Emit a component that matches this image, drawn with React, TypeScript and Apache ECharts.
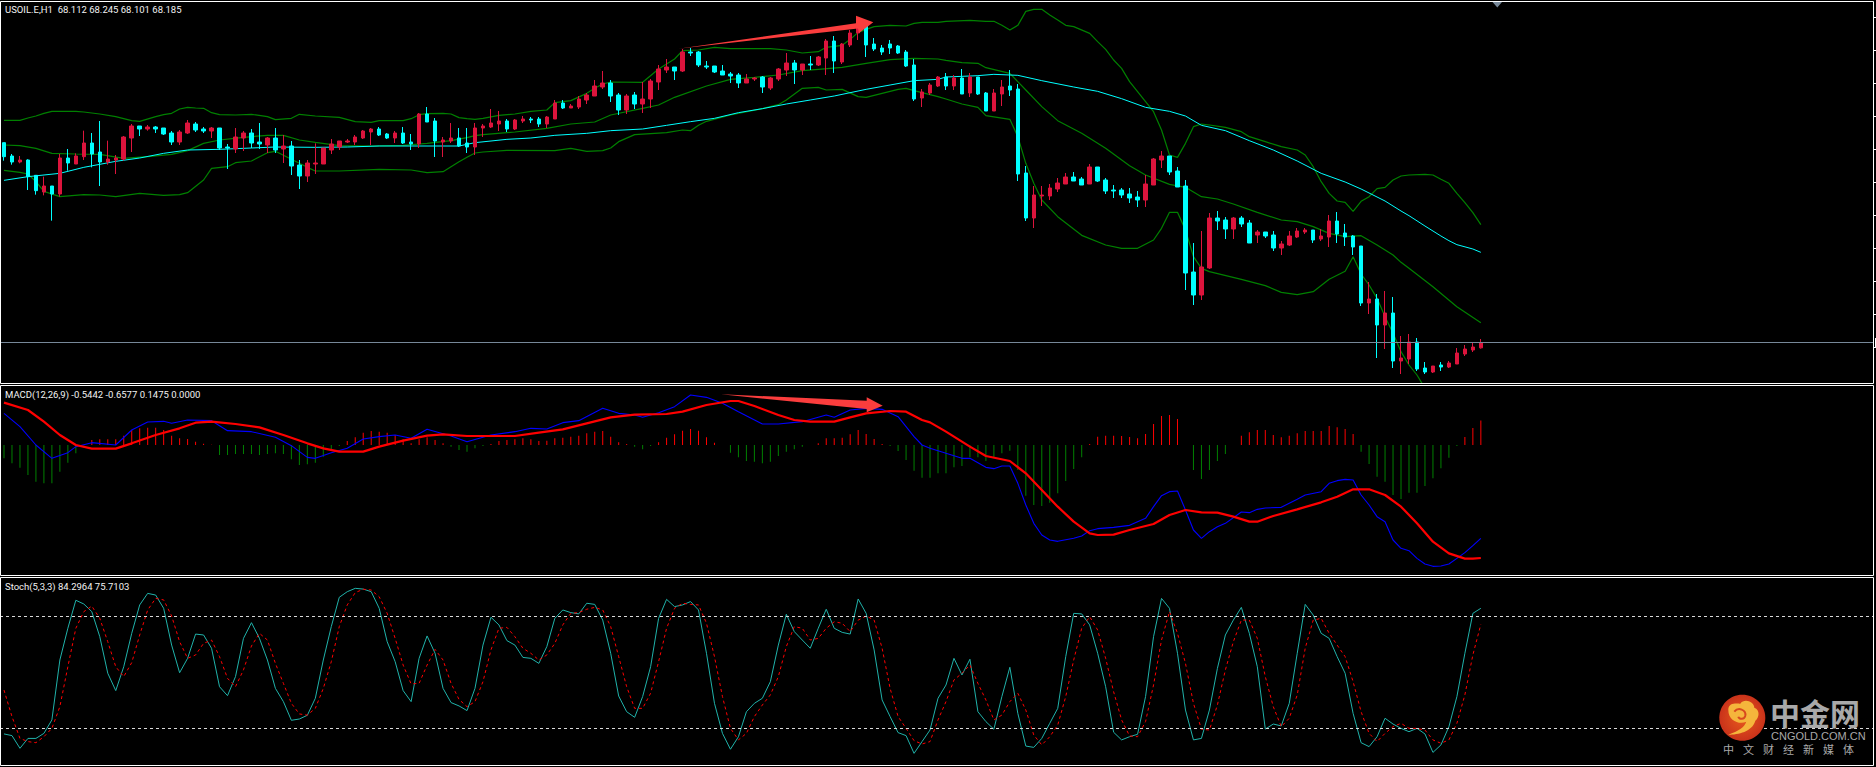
import React, { useEffect, useRef } from "react";
import * as echarts from "echarts";

const HEADER_PRICE = "USOIL.E,H1  68.112 68.245 68.101 68.185";
const HEADER_MACD = "MACD(12,26,9) -0.5442 -0.6577 0.1475 0.0000";
const HEADER_STOCH = "Stoch(5,3,3) 84.2964 75.7103";
const BID_PRICE = 68.185;
const STOCH_LEVELS = [80, 20];
const SLOT_COUNT = 235;
const slots = Array.from({ length: SLOT_COUNT }, (_, i) => String(i));

// [open, close, low, high]
const candles = [
[71.19,70.98,70.92,71.19],[70.99,70.90,70.86,71.02],[70.90,70.93,70.88,70.99],[70.93,70.68,70.48,70.94],[70.70,70.47,70.41,70.70],
[70.45,70.54,70.40,70.68],[70.54,70.42,70.02,70.54],[70.42,70.96,70.38,71.02],[70.96,70.885,70.77,71.095],[70.87,70.99,70.87,71.03],
[70.98,71.185,70.93,71.37],[71.185,71.02,70.82,71.335],[71.05,70.90,70.54,71.515],[70.90,70.945,70.86,71.22],[70.93,70.96,70.72,71.005],
[70.945,71.275,70.92,71.29],[71.26,71.44,71.05,71.47],[71.44,71.395,71.29,71.44],[71.395,71.425,71.37,71.455],[71.425,71.395,71.335,71.44],
[71.41,71.32,71.305,71.41],[71.335,71.20,71.155,71.365],[71.20,71.35,71.155,71.38],[71.335,71.485,71.32,71.53],[71.47,71.38,71.35,71.50],
[71.395,71.365,71.335,71.425],[71.365,71.41,71.26,71.425],[71.41,71.11,71.08,71.41],[71.125,71.11,70.795,71.17],[71.095,71.275,71.035,71.41],
[71.26,71.335,71.065,71.365],[71.335,71.185,71.11,71.395],[71.20,71.17,71.095,71.485],[71.155,71.26,71.035,71.275],[71.26,71.08,71.035,71.41],
[71.095,71.14,70.885,71.305],[71.14,70.84,70.705,71.215],[70.855,70.69,70.495,70.93],[70.69,70.885,70.60,70.93],[70.87,70.885,70.72,71.18],
[70.87,71.11,70.87,71.11],[71.08,71.17,71.02,71.245],[71.125,71.215,71.08,71.215],[71.20,71.215,71.185,71.245],[71.20,71.275,71.155,71.305],
[71.26,71.365,71.245,71.38],[71.35,71.395,71.155,71.41],[71.395,71.305,71.29,71.425],[71.32,71.26,71.245,71.335],[71.26,71.335,71.185,71.365],
[71.335,71.185,71.17,71.425],[71.20,71.17,71.08,71.32],[71.17,71.62,71.11,71.635],[71.62,71.50,71.50,71.725],[71.515,71.215,70.975,71.56],
[71.20,71.23,70.975,71.275],[71.215,71.26,71.185,71.485],[71.26,71.14,71.125,71.41],[71.185,71.125,71.035,71.41],[71.125,71.41,71.005,71.485],
[71.41,71.44,71.275,71.47],[71.425,71.485,71.41,71.695],[71.47,71.515,71.365,71.665],[71.515,71.395,71.35,71.545],[71.395,71.53,71.38,71.545],
[71.515,71.545,71.485,71.59],[71.545,71.53,71.485,71.575],[71.545,71.47,71.425,71.575],[71.47,71.575,71.41,71.59],[71.545,71.785,71.545,71.83],
[71.785,71.71,71.695,71.83],[71.71,71.74,71.71,71.77],[71.725,71.845,71.695,71.89],[71.83,71.905,71.77,71.935],[71.89,72.04,71.89,72.13],
[72.025,72.085,71.995,72.265],[72.085,71.89,71.80,72.13],[71.905,71.68,71.605,71.935],[71.68,71.89,71.62,71.92],[71.905,71.77,71.695,71.95],
[71.77,71.845,71.635,72.10],[71.845,72.115,71.71,72.145],[72.10,72.295,71.98,72.355],[72.28,72.325,72.235,72.445],[72.325,72.265,72.13,72.325],
[72.265,72.55,72.25,72.595],[72.55,72.535,72.49,72.61],[72.55,72.355,72.325,72.565],[72.34,72.325,72.295,72.415],[72.34,72.25,72.235,72.34],
[72.265,72.205,72.205,72.355],[72.22,72.19,72.085,72.25],[72.205,72.085,72.01,72.235],[72.085,72.145,72.085,72.22],[72.145,72.16,72.115,72.175],
[72.175,72.025,71.935,72.19],[72.01,72.16,71.98,72.175],[72.145,72.295,72.115,72.31],[72.28,72.385,72.19,72.535],[72.385,72.28,72.07,72.43],
[72.28,72.37,72.205,72.37],[72.37,72.355,72.28,72.49],[72.355,72.475,72.34,72.49],[72.46,72.715,72.205,72.745],[72.715,72.415,72.235,72.79],
[72.40,72.67,72.37,72.685],[72.655,72.835,72.625,72.88],[72.835,72.91,72.73,72.98],[72.97,72.655,72.475,73.00],[72.67,72.595,72.565,72.76],
[72.61,72.55,72.505,72.655],[72.67,72.61,72.52,72.73],[72.64,72.535,72.52,72.655],[72.55,72.34,72.325,72.58],[72.355,71.845,71.815,72.445],
[71.86,71.95,71.725,71.995],[71.935,72.055,71.905,72.085],[72.04,72.175,72.025,72.19],[72.175,72.04,71.98,72.235],[72.04,72.16,71.98,72.205],
[72.16,71.92,71.92,72.295],[71.935,72.175,71.875,72.235],[72.175,71.92,71.905,72.175],[71.935,71.665,71.665,71.95],[71.665,71.935,71.665,71.995],
[71.92,72.025,71.74,72.13],[72.04,71.98,71.89,72.28],[71.995,70.72,70.615,72.07],[70.735,70.06,70.015,70.84],[70.06,70.405,69.91,70.54],
[70.39,70.405,70.24,70.54],[70.39,70.51,70.33,70.57],[70.495,70.585,70.45,70.66],[70.57,70.675,70.57,70.735],[70.675,70.615,70.615,70.75],
[70.645,70.555,70.555,70.675],[70.57,70.825,70.57,70.87],[70.825,70.615,70.60,70.825],[70.63,70.465,70.42,70.66],[70.48,70.465,70.36,70.555],
[70.48,70.405,70.36,70.51],[70.42,70.36,70.285,70.51],[70.375,70.33,70.225,70.465],[70.33,70.57,70.225,70.705],[70.555,70.945,70.555,70.96],
[70.93,70.99,70.81,71.065],[70.99,70.75,70.705,70.99],[70.765,70.525,70.525,70.825],[70.54,69.235,68.98,70.63],[69.25,68.905,68.755,69.685],
[68.905,69.325,68.83,69.865],[69.31,70.06,69.295,70.135],[70.06,70.015,69.88,70.165],[70.03,69.895,69.745,70.075],[69.895,70.06,69.745,70.075],
[70.06,69.97,69.925,70.09],[69.985,69.685,69.685,70.03],[69.805,69.85,69.685,69.88],[69.85,69.79,69.76,69.85],[69.805,69.61,69.565,69.865],
[69.61,69.67,69.505,69.715],[69.655,69.79,69.64,69.865],[69.775,69.865,69.76,69.91],[69.85,69.88,69.82,69.91],[69.88,69.73,69.685,69.88],
[69.745,69.79,69.715,69.895],[69.775,70.015,69.625,70.105],[70.015,69.82,69.685,70.15],[69.835,69.775,69.64,69.97],[69.79,69.625,69.505,69.805],
[69.64,68.785,68.74,69.64],[68.785,68.845,68.62,69.10],[68.845,68.455,67.96,68.92],[68.455,68.635,68.095,68.965],[68.635,67.915,67.81,68.875],
[67.915,67.96,67.72,68.29],[67.945,68.20,67.87,68.32],[68.20,67.795,67.765,68.26],[67.81,67.75,67.72,67.90],[67.75,67.84,67.735,67.84],
[67.855,67.825,67.765,67.90],[67.825,67.885,67.81,67.915],[67.87,68.035,67.87,68.11],[68.02,68.095,67.99,68.155],[68.08,68.125,68.05,68.20],
[68.112,68.185,68.101,68.245],
];

// [bar index, value] read where each line bends
const bollUpper = [[0,71.525],[2,71.525],[3,71.56],[4,71.59],[5,71.63],[6,71.66],[9,71.66],[10,71.65],[12,71.62],[14,71.58],[16,71.52],[17,71.51],[19,71.58],[20,71.61],[21,71.63],[22,71.695],[23,71.72],[24,71.71],[25,71.705],[26,71.64],[27,71.61],[29,71.605],[31,71.615],[33,71.58],[34,71.535],[36,71.555],[37,71.615],[39,71.59],[42,71.57],[44,71.505],[46,71.495],[47,71.52],[50,71.52],[51,71.55],[52,71.61],[53,71.625],[55,71.63],[56,71.62],[57,71.565],[58,71.55],
[59,71.54],[60,71.555],[62,71.60],[64,71.62],[66,71.66],[68,71.68],[69,71.79],[71,71.82],[73,71.93],[74,72.005],[75,72.07],[76,72.10],[80,72.095],[82,72.295],[84,72.445],[85,72.57],[87,72.58],[89,72.62],[91,72.60],[96,72.60],[98,72.58],[100,72.535],[102,72.555],[103,72.62],[105,72.65],[106,72.74],[107,72.845],[108,72.89],[109,72.93],[111,72.95],[113,72.94],[114,72.98],[115,72.995],[117,72.995],
[118,73.01],[121,73.025],[123,73.01],[124,73.01],[125,72.95],[126,72.88],[127,72.95],[128,73.16],[129,73.19],[130,73.19],[131,73.105],[132,73.03],[133,72.95],[134,72.93],[136,72.83],[137,72.705],[138,72.59],[139,72.43],[140,72.305],[141,72.105],[142,71.955],[143,71.805],[144,71.655],[145,71.38],[146,71.005],[147,70.97],[148,71.18],[149,71.43],[150,71.47],[151,71.455],[153,71.42],[155,71.355],[156,71.28],[158,71.205],[160,71.13],[162,71.08],[163,71.005],[164,70.83],[165,70.605],[166,70.43],[167,70.315],[168,70.295],[169,70.16],[170,70.31],[171,70.38],[172,70.50],[173,70.52],[174,70.63],[175,70.69],[176,70.705],[178,70.715],[179,70.705],[180,70.64],[181,70.58],[182,70.43],[183,70.29],[184,70.14],[185,69.96]];

const bollMiddle = [[0,71.155],[2,71.145],[4,71.105],[6,71.03],[9,71.02],[12,71.015],[15,70.955],[18,70.98],[21,71.015],[23,71.07],[25,71.18],[27,71.23],[30,71.27],[33,71.30],[35,71.30],[37,71.23],[39,71.195],[42,71.145],[46,71.14],[50,71.15],[53,71.18],[56,71.22],[58,71.265],
[59,71.295],[60,71.31],[64,71.35],[68,71.405],[71,71.47],[74,71.50],[76,71.605],[80,71.705],[82,71.755],[84,71.87],[88,72.04],[91,72.14],[94,72.17],[97,72.205],[100,72.27],[102,72.29],[105,72.32],[108,72.38],[111,72.435],[114,72.455],[117,72.445],
[118,72.425],[120,72.39],[122,72.38],[123,72.315],[126,72.23],[128,71.98],[130,71.73],[132,71.52],[135,71.33],[138,71.105],[141,70.845],[143,70.705],[146,70.565],[148,70.52],[150,70.38],[152,70.345],[154,70.27],[157,70.145],[160,70.03],[162,70.005],[164,69.93],[166,69.83],[168,69.78],[170,69.795],[172,69.655],[174,69.505],[175,69.395],[176,69.305],[179,69.03],[182,68.73],[185,68.49]];

const bollLower = [[0,70.775],[2,70.745],[3,70.72],[4,70.605],[5,70.46],[7,70.38],[10,70.41],[12,70.405],[14,70.38],[17,70.43],[20,70.40],[22,70.41],[23,70.44],[25,70.63],[26,70.805],[28,70.83],[29,70.89],[31,70.915],[33,71.04],[34,71.06],[36,70.94],[37,70.88],[38,70.82],[39,70.765],[42,70.765],[47,70.79],[51,70.78],[53,70.74],[55,70.755],[57,70.905],[58,70.97],
[59,71.035],[60,71.05],[63,71.075],[69,71.07],[71,71.105],[73,71.06],[75,71.07],[76,71.11],[77,71.205],[79,71.31],[83,71.34],[85,71.38],[86,71.37],[87,71.45],[88,71.51],[91,71.605],[95,71.70],[97,71.76],[98,71.83],[100,72.005],[102,72.02],[103,71.98],[105,71.99],[107,71.88],[108,71.87],[112,71.99],[113,72.005],[114,71.97],[117,71.88],
[118,71.845],[120,71.77],[122,71.72],[123,71.595],[126,71.54],[127,71.28],[128,70.88],[129,70.58],[130,70.33],[132,70.08],[135,69.80],[138,69.655],[140,69.605],[142,69.605],[144,69.73],[145,69.905],[146,70.145],[147,70.145],[148,69.88],[149,69.48],[150,69.305],[151,69.255],[155,69.14],[158,69.045],[160,68.945],[162,68.91],[164,68.955],[166,69.14],[168,69.26],[169,69.48],[170,69.22],[171,69.055],[172,68.855],[173,68.58],[174,68.33],[175,68.055],[176,67.855],[177,67.705],[178,67.505]];

const movingAverage = [[0,70.625],[3,70.68],[7,70.73],[10,70.82],[14,70.91],[17,70.96],[20,71.03],[23,71.08],[27,71.09],[31,71.11],[34,71.125],[39,71.12],[43,71.125],[47,71.14],[52,71.14],[57,71.14],[58,71.165],
[59,71.19],[63,71.24],[66,71.26],[69,71.30],[73,71.33],[76,71.37],[80,71.395],[83,71.45],[86,71.505],[89,71.555],[92,71.64],[95,71.70],[98,71.77],[101,71.83],[104,71.89],[108,71.99],[111,72.055],[114,72.12],[117,72.14],
[118,72.175],[122,72.195],[124,72.215],[127,72.20],[130,72.12],[134,72.025],[137,71.96],[140,71.85],[143,71.72],[146,71.66],[148,71.59],[150,71.45],[153,71.37],[156,71.22],[159,71.08],[162,70.915],[165,70.73],[168,70.60],[170,70.495],[173,70.315],[175,70.165],[176,70.095],[178,69.94],[180,69.79],[181,69.72],[182,69.66],[184,69.595],[185,69.545]];

const macdLine = [[0,0.19],[2,0.11],[4,0],[6,-0.08],[8,-0.046],[9,-0.01],[11,0.014],[14,0],[16,0.09],[18,0.138],[20,0.142],[21,0.13],[23,0.15],[26,0.146],[28,0.086],[31,0.08],[34,0.046],[36,-0.004],[38,-0.074],[39,-0.08],[41,-0.046],[43,-0.02],[45,0.036],[47,0.05],[49,0.06],[51,0.04],[53,0.094],[56,0.054],[58,0.02],[61,0.06],[64,0.08],[66,0.10],[68,0.096],[70,0.134],[72,0.146],[75,0.22],[77,0.19],[79,0.18],[80,0.166],[82,0.194],[84,0.23],[86,0.30],[88,0.286],[90,0.25],[92,0.20],[95,0.126],[97,0.126],[100,0.14],[103,0.18],[104,0.166],[106,0.21],[108,0.22],[110,0.214],[112,0.17],[114,0.05],[115,0],
[116,-0.02],[117,-0.034],[118,-0.05],[120,-0.08],[121,-0.08],[123,-0.134],[124,-0.142],[125,-0.126],[126,-0.126],[127,-0.23],[128,-0.36],[129,-0.47],[130,-0.54],[131,-0.57],[132,-0.578],[134,-0.56],[135,-0.546],[136,-0.514],[137,-0.502],[139,-0.494],[141,-0.482],[143,-0.44],[144,-0.37],[145,-0.304],[146,-0.28],[147,-0.276],[148,-0.39],[149,-0.51],[150,-0.56],[151,-0.52],[152,-0.49],[153,-0.47],[155,-0.402],[156,-0.406],[157,-0.386],[158,-0.378],[160,-0.374],[162,-0.326],[163,-0.30],[165,-0.28],[166,-0.23],[167,-0.214],[168,-0.206],[169,-0.21],[170,-0.30],[171,-0.36],[172,-0.43],[173,-0.46],[174,-0.57],[175,-0.62],[176,-0.634],[177,-0.68],[178,-0.714],[179,-0.728],[180,-0.726],[181,-0.714],[182,-0.68],[183,-0.646],[184,-0.604],[185,-0.56]];

const signalLine = [[0,0.254],[3,0.21],[5,0.14],[7,0.06],[9,0],[11,-0.022],[14,-0.022],[16,0.01],[19,0.06],[22,0.10],[24,0.134],[26,0.14],[29,0.126],[32,0.106],[35,0.06],[38,0.01],[40,-0.02],[42,-0.04],[45,-0.04],[47,-0.01],[50,0.026],[53,0.056],[55,0.064],[58,0.054],[64,0.054],[67,0.074],[70,0.094],[73,0.13],[76,0.166],[79,0.182],[83,0.186],[85,0.20],[88,0.24],[91,0.264],[92,0.264],[94,0.234],[97,0.18],[99,0.15],[101,0.14],[104,0.14],[106,0.166],[108,0.19],[111,0.204],[113,0.20],[115,0.15],
[116,0.136],[118,0.08],[121,-0.01],[123,-0.066],[126,-0.096],[128,-0.17],[130,-0.27],[132,-0.37],[134,-0.46],[136,-0.53],[137,-0.54],[139,-0.538],[141,-0.51],[144,-0.474],[146,-0.42],[148,-0.39],[150,-0.404],[152,-0.406],[154,-0.43],[156,-0.46],[157,-0.46],[159,-0.426],[162,-0.386],[165,-0.344],[167,-0.31],[169,-0.266],[171,-0.266],[173,-0.30],[175,-0.37],[177,-0.47],[179,-0.58],[181,-0.65],[183,-0.682],[184,-0.682],[185,-0.678]];

const macdHistogram = [
-0.08,-0.11,-0.136,-0.18,-0.22,-0.23,-0.23,-0.16,-0.106,-0.05,
-0.002,0.03,0.034,0.034,0.034,0.056,0.09,0.10,0.104,0.104,
0.09,0.056,0.04,0.036,0.02,0.008,0.002,-0.06,-0.06,-0.054,
-0.054,-0.054,-0.06,-0.054,-0.05,-0.054,-0.086,-0.12,-0.116,-0.106,
-0.07,-0.034,-0.006,0.024,0.046,0.074,0.084,0.08,0.074,0.06,
0.034,0.01,0.034,0.046,0.03,0.01,-0.01,-0.03,-0.04,-0.02,
-0.006,0.006,0.024,0.03,0.034,0.04,0.034,0.024,0.026,0.04,
0.044,0.05,0.056,0.07,0.08,0.084,0.05,0.016,0.006,-0.01,
-0.026,-0.006,0.016,0.044,0.064,0.086,0.096,0.086,0.046,0.014,
0,-0.046,-0.074,-0.096,-0.10,-0.11,-0.10,-0.066,-0.04,-0.026,
-0.01,0,0.01,0.04,0.04,0.044,0.064,0.09,0.066,0.036,
0.006,-0.006,-0.036,-0.09,-0.154,-0.196,-0.196,-0.17,-0.17,-0.134,
-0.126,-0.074,-0.074,-0.096,-0.078,-0.05,-0.034,-0.15,-0.304,-0.36,
-0.366,-0.346,-0.29,-0.216,-0.144,-0.074,0.006,0.05,0.056,0.056,
0.054,0.048,0.04,0.066,0.126,0.174,0.18,0.156,0,-0.15,
-0.204,-0.15,-0.096,-0.054,0,0.056,0.076,0.09,0.09,0.06,
0.046,0.056,0.07,0.084,0.084,0.084,0.114,0.106,0.096,0.066,
-0.04,-0.114,-0.19,-0.22,-0.30,-0.324,-0.286,-0.286,-0.246,-0.20,
-0.14,-0.076,-0.006,0.048,0.102,0.1475,
];

const stochMain = [
17.0,16.1,9.3,14.6,14.6,17.3,24.5,56.6,73.6,88.6,
86.6,82.5,69.1,49.5,40.2,53.0,70.9,86.1,92.3,91.4,
84.3,64.6,49.8,57.5,70.5,70.0,62.9,42.3,37.5,47.7,
68.2,76.6,68.2,56.6,41.4,34.3,24.3,25.0,27.0,36.1,
56.6,74.5,90.2,93.2,95.0,94.6,93.2,84.3,66.4,55.7,
40.2,34.3,57.5,69.5,60.2,41.4,33.8,32.0,29.5,41.4,
64.6,79.5,75.4,67.0,64.6,58.0,57.5,54.8,63.8,78.9,
83.4,82.0,81.3,87.0,86.4,78.0,60.2,37.3,28.9,25.9,
37.0,53.0,78.9,89.1,85.2,86.1,87.9,83.4,60.2,33.4,
17.3,8.8,15.5,28.9,33.4,36.1,45.0,64.6,81.1,71.8,
67.3,62.9,73.6,83.8,73.6,71.4,70.5,89.3,81.6,62.0,
35.2,26.3,17.7,16.1,6.6,12.9,19.1,36.1,43.2,57.5,
48.6,57.0,28.9,23.6,19.5,37.0,52.7,28.0,10.5,9.8,
14.6,22.7,30.7,58.4,81.6,81.3,75.4,60.2,42.3,17.9,
13.8,15.5,16.8,37.0,69.1,89.6,84.3,60.2,29.8,13.8,
14.6,29.8,52.1,70.0,78.0,84.8,70.9,53.0,19.6,22.3,
21.3,33.4,60.2,86.4,80.7,70.9,68.2,58.4,49.5,28.0,
12.3,10.2,15.5,25.4,22.3,20.0,18.2,20.0,17.0,7.1,
11.1,20.9,37.0,60.2,81.6,84.3,
];

const stochSignal = [
40.5,26.3,14.6,12.9,12.3,15.5,20.0,31.6,53.0,73.6,
82.5,85.5,78.9,66.4,53.0,47.7,55.2,70.0,83.4,89.6,
88.8,80.2,66.4,57.5,59.3,65.5,67.3,58.4,46.8,42.3,
51.3,64.1,70.9,67.3,54.8,44.1,33.4,27.7,27.1,30.7,
41.4,55.7,74.5,86.1,92.7,94.5,94.1,90.5,81.6,68.2,
53.9,43.8,44.1,53.9,62.3,56.6,44.1,35.5,31.6,34.3,
45.0,62.0,73.6,74.1,69.1,62.9,60.2,56.6,59.3,65.5,
75.4,81.6,82.0,83.8,84.8,83.4,74.5,58.4,42.3,30.7,
30.7,38.8,55.7,73.6,84.3,87.0,86.4,86.1,76.3,58.4,
37.0,20.0,13.8,17.3,26.3,32.5,37.9,47.7,63.8,74.5,
73.6,67.3,68.2,73.6,77.1,76.3,71.8,78.0,80.2,78.0,
62.9,41.4,26.3,20.0,13.4,11.6,12.9,24.5,34.3,45.9,
49.5,53.9,44.1,35.2,24.5,27.1,34.3,38.8,29.8,16.4,
11.1,15.5,21.8,37.0,56.6,73.6,79.8,72.7,57.5,39.6,
24.5,15.9,15.5,23.6,43.2,67.3,82.5,70.9,54.8,33.4,
19.5,19.1,32.5,51.3,66.4,78.0,78.0,68.2,47.7,31.6,
20.9,25.4,37.9,62.9,78.0,78.9,70.9,64.6,58.4,45.0,
28.9,17.3,12.9,17.3,20.9,22.7,20.0,20.0,19.1,13.8,
12.0,13.8,22.7,37.9,59.3,75.7,
];

const CAPTION_CHARS = "中文财经新媒体".split("");
const TICK_YS = [17, 50, 83, 116, 149, 182, 215, 248, 281, 314, 347];

echarts.graphic.registerShape("cngoldCloud", echarts.graphic.extendPath("M-14,-8 C-14,-16 -4,-14 -2,-14 C2,-20 12,-16 12,-10 C18,-8 17,0 13,3 C10,14 -4,17 -14,17 C-4,13 2,10 4,4 C-2,7 -14,4 -14,-8 Z", {}));
echarts.graphic.registerShape("cngoldSwirl", echarts.graphic.extendPath("M-8,-6 C-4,-11 4,-8 3,-2 C2,2 -3,2 -4,-1", {}));

const lineSeries = (name: string, data: any, xi: number, color: string, width = 1, extra: any = {}) => ({
  name, type: "line", data, xAxisIndex: xi, yAxisIndex: xi, showSymbol: false, silent: true,
  lineStyle: { color, width }, z: 2, ...extra,
});
const hiddenX = (gridIndex: number) => ({ type: "category", gridIndex, data: slots, show: false });
const border = (y: number, h: number) => ({
  type: "rect", z: 50, silent: true, shape: { x: 0.5, y, width: 1873, height: h },
  style: { fill: "none", stroke: "#ffffff", lineWidth: 1 },
});
const label = (text: string, y: number) => ({
  type: "text", z: 60, x: 5, y, silent: true,
  style: { text, fill: "#f2f2f2", font: "9.5px Roboto", textVerticalAlign: "middle" },
});

export default function App() {
  const ref = useRef<HTMLDivElement>(null);
  useEffect(() => {
    const chart = echarts.init(ref.current!, null, { renderer: "svg" });
    chart.setOption({
      animation: false,
      backgroundColor: "#000000",
      grid: [
        { left: -2.5, top: 2, width: SLOT_COUNT * 8, height: 381 },
        { left: -2.5, top: 386, width: SLOT_COUNT * 8, height: 189 },
        { left: -2.5, top: 577, width: SLOT_COUNT * 8, height: 189 },
      ],
      xAxis: [hiddenX(0), hiddenX(1), hiddenX(2)],
      yAxis: [
        { type: "value", gridIndex: 0, min: 67.585, max: 73.3, show: false },
        { type: "value", gridIndex: 1, min: -0.78, max: 0.354, show: false },
        { type: "value", gridIndex: 2, min: -0.18, max: 101.07, show: false },
      ],
      series: [
        lineSeries("Upper band", bollUpper, 0, "#008000", 1.2),
        lineSeries("Middle band", bollMiddle, 0, "#008000", 1.2),
        lineSeries("Lower band", bollLower, 0, "#008000", 1.2),
        lineSeries("Moving average", movingAverage, 0, "#00FFFF", 1),
        {
          name: "USOIL.E", type: "candlestick", data: candles, xAxisIndex: 0, yAxisIndex: 0, z: 3, silent: true,
          barWidth: 4,
          itemStyle: { color: "#DC143C", borderColor: "#DC143C", color0: "#00FFFF", borderColor0: "#00FFFF", borderWidth: 1 },
          markLine: {
            silent: true, symbol: "none", label: { show: false }, animation: false,
            lineStyle: { color: "#778899", type: "solid", width: 1 }, data: [{ yAxis: BID_PRICE }],
          },
        },
        {
          name: "Histogram", type: "bar", data: macdHistogram, xAxisIndex: 1, yAxisIndex: 1, barWidth: 1, silent: true,
          itemStyle: { color: (p: any) => (p.value >= 0 ? "#FF0000" : "#008000") },
        },
        lineSeries("MACD", macdLine, 1, "#0000FF", 1.1, { z: 3 }),
        lineSeries("Signal", signalLine, 1, "#FF0000", 2.2, { z: 4 }),
        lineSeries("Stoch %K", stochMain, 2, "#20B2AA", 1, {
          z: 3,
          markLine: {
            silent: true, symbol: "none", label: { show: false }, animation: false,
            lineStyle: { color: "#D8D8D8", type: [3, 3], width: 1 },
            data: STOCH_LEVELS.map((yAxis) => ({ yAxis })),
          },
        }),
        lineSeries("Stoch %D", stochSignal, 2, "#FF0000", 1, { z: 4, lineStyle: { color: "#FF0000", width: 1, type: [3, 3] } }),
      ],
      graphic: [
        { type: "rect", z: 40, silent: true, shape: { x: 1874, y: 0, width: 2, height: 767 }, style: { fill: "#000000" } },
        border(1.5, 382), border(385.5, 190), border(577.5, 188),
        ...TICK_YS.map((y) => ({ type: "line", z: 50, silent: true, shape: { x1: 1874, y1: y + 0.5, x2: 1876, y2: y + 0.5 }, style: { stroke: "#ffffff", lineWidth: 1 } })),
        { type: "line", z: 50, silent: true, shape: { x1: 1875.5, y1: 338, x2: 1875.5, y2: 348 }, style: { stroke: "#ffffff", lineWidth: 1 } },
        { type: "polygon", z: 50, silent: true, shape: { points: [[1492.5, 2], [1502, 2], [1497.3, 7.5]] }, style: { fill: "#778899" } },
        { type: "polygon", z: 30, silent: true, shape: { points: [[678.3, 48.7], [856, 23.3], [856, 15.7], [873.3, 22.3], [859, 33], [858, 28.5]] }, style: { fill: "#FB3D3D" } },
        { type: "polygon", z: 30, silent: true, shape: { points: [[721, 394.3], [866.7, 400.7], [866.7, 397.3], [882.7, 405.7], [866.7, 412.3], [866.7, 409]] }, style: { fill: "#FB3D3D" } },
        label(HEADER_PRICE, 9.5), label(HEADER_MACD, 394.5), label(HEADER_STOCH, 586.5),
        { type: "ellipse", z: 55, silent: true, shape: { cx: 1742.3, cy: 717.7, rx: 23, ry: 23 },
          style: { fill: { type: "radial", x: 0.5, y: 0.5, r: 0.5, colorStops: [{ offset: 0, color: "#E85A1E" }, { offset: 1, color: "#C9321A" }] } } },
        { type: "cngoldCloud", z: 56, silent: true, x: 1742.3, y: 717.7, style: { fill: "#F5B53C" } },
        { type: "cngoldSwirl", z: 57, silent: true, x: 1742.3, y: 717.7, style: { fill: "none", stroke: "#D8481E", lineWidth: 2 } },
        { type: "text", z: 56, silent: true, x: 1770, y: 712, style: { text: "中金网", fill: "#A9A9A9", font: "bold 30px 'Noto Sans CJK SC'", textVerticalAlign: "middle" } },
        { type: "text", z: 56, silent: true, x: 1771, y: 736, style: { text: "CNGOLD.COM.CN", fill: "#A9A9A9", font: "11px 'Liberation Sans'", textVerticalAlign: "middle" } },
        ...CAPTION_CHARS.map((text, i) => ({
          type: "text", z: 56, silent: true, x: 1723 + i * 20, y: 749,
          style: { text, fill: "#A9A9A9", font: "11px 'Noto Sans CJK SC'", textVerticalAlign: "middle" },
        })),
      ],
    });
    return () => chart.dispose();
  }, []);
  return <div ref={ref} style={{ position: "absolute", left: 0, top: 0, width: 1876, height: 767 }} />;
}
